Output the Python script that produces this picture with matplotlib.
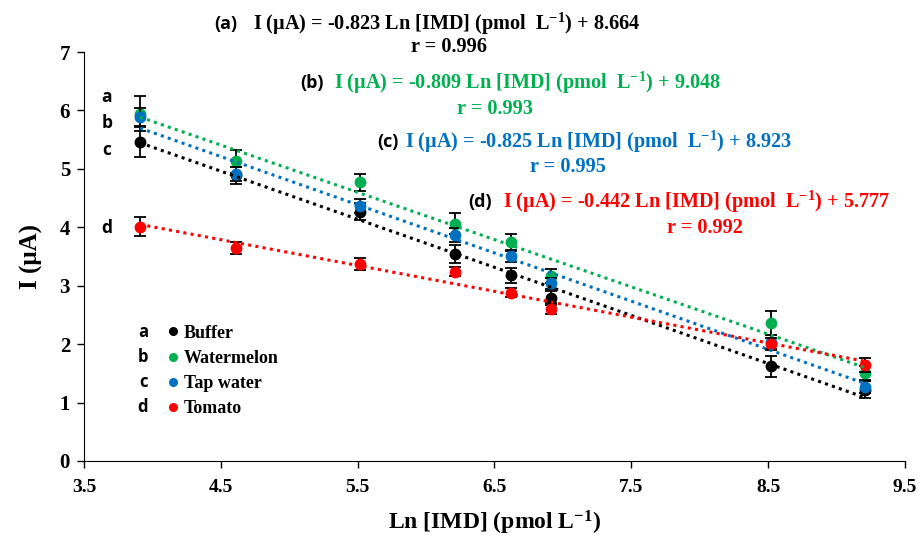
import numpy as np
import matplotlib
matplotlib.use("Agg")
import matplotlib.pyplot as plt
from matplotlib.lines import Line2D

plt.rcParams['mathtext.fontset'] = 'custom'
plt.rcParams['mathtext.rm'] = 'Liberation Serif:bold'
plt.rcParams['mathtext.default'] = 'rm'

# ---- data ----
ln_imd = [3.91, 4.61, 5.52, 6.21, 6.62, 6.91, 8.52, 9.21]
series_names = ["Buffer", "Watermelon", "Tap water", "Tomato"]
series_letters = ["a", "b", "c", "d"]
buffer_vals = [5.46, 4.89, 4.27, 3.54, 3.18, 2.79, 1.62, 1.22]
buffer_err = [0.26, 0.15, 0.15, 0.15, 0.13, 0.12, 0.18, 0.15]
watermelon_vals = [5.94, 5.13, 4.77, 4.06, 3.74, 3.17, 2.36, 1.51]
watermelon_err = [0.30, 0.20, 0.15, 0.18, 0.14, 0.12, 0.20, 0.12]
tap_vals = [5.89, 4.91, 4.37, 3.87, 3.51, 3.04, 2.04, 1.27]
tap_err = [0.15, 0.12, 0.12, 0.12, 0.10, 0.10, 0.12, 0.10]
tomato_vals = [4.01, 3.65, 3.37, 3.24, 2.88, 2.61, 2.00, 1.64]
tomato_err = [0.16, 0.10, 0.10, 0.08, 0.08, 0.10, 0.10, 0.12]
slopes = [-0.823, -0.809, -0.825, -0.442]
intercepts = [8.664, 9.048, 8.923, 5.777]
r_values = [0.996, 0.993, 0.995, 0.992]
x_ticks = [3.5, 4.5, 5.5, 6.5, 7.5, 8.5, 9.5]
y_ticks = [0, 1, 2, 3, 4, 5, 6, 7]

colors = ["#000000", "#00B050", "#0070C0", "#FF0000"]
values = [buffer_vals, watermelon_vals, tap_vals, tomato_vals]
errors = [buffer_err, watermelon_err, tap_err, tomato_err]

W, H = 924, 541
fig = plt.figure(figsize=(W / 100, H / 100), dpi=100)
ax = fig.add_axes([84 / W, 1 - 461 / H, (905 - 84) / W, (461 - 52) / H])

serif = "Liberation Serif"
sans = "Open Sans"

x = np.array(ln_imd)
for i in range(4):
    ax.errorbar(x, values[i], yerr=errors[i], fmt='o', color=colors[i],
                ecolor='black', elinewidth=1.3, capsize=4.5, capthick=1.3,
                markersize=7.5, zorder=3 + i)
for i in range(4):
    xl = np.array([x[0], x[-1]])
    ax.plot(xl, slopes[i] * xl + intercepts[i], color=colors[i],
            linestyle=(0, (1, 1.4)), linewidth=2.2, zorder=8)

ax.set_xlim(3.5, 9.5)
ax.set_ylim(0, 7)
ax.set_xticks(x_ticks)
ax.set_yticks(y_ticks)
ax.set_xticklabels([f"{t:g}" for t in x_ticks], fontfamily=serif, fontweight='bold', fontsize=14)
ax.set_yticklabels([str(t) for t in y_ticks], fontfamily=serif, fontweight='bold', fontsize=15)
ax.spines['top'].set_visible(False)
ax.spines['right'].set_visible(False)
ax.tick_params(direction='out', length=5, width=1, pad=5)
ax.tick_params(axis='x', pad=8)

ax.set_ylabel("I (μA)", fontfamily=serif, fontweight='bold', fontsize=18, labelpad=12)
ax.set_xlabel("Ln [IMD] (pmol L$^{-1}$)", fontfamily=serif, fontweight='bold', fontsize=17, labelpad=9)

# legend
handles = [Line2D([], [], marker='o', linestyle='none', color=c, markersize=5.5) for c in colors]
ax.legend(handles, series_names, loc='upper left',
          bbox_to_anchor=((166 - 84) / (905 - 84), (461 - 323) / (461 - 52)),
          frameon=False, handlelength=0.6, handletextpad=0.3, labelspacing=0.45,
          borderpad=0.1, borderaxespad=0.0,
          prop={'family': serif, 'weight': 'bold', 'size': 13})
for j, (lt, yp) in enumerate(zip(series_letters, [332, 357, 382, 407])):
    fig.text(143 / W, 1 - yp / H, lt, fontfamily=sans, fontweight='bold', fontsize=12,
             ha='center', va='center')

# letters beside first points
for lt, yp in zip(series_letters, [97, 123, 150, 228]):
    fig.text(107 / W, 1 - yp / H, lt, fontfamily=sans, fontweight='bold', fontsize=12.5,
             ha='center', va='center')

# equations
eq_layout = [  # (label_left, eq_left, y_eq, r_center, y_r)
    (214, 253, 24, 449, 47),
    (300, 334, 83, 495, 109),
    (377, 405, 142, 568, 167),
    (468, 503, 202, 705, 228),
]
for i, (lx, ex, ye, rc, yr) in enumerate(eq_layout):
    fig.text(lx / W, 1 - ye / H, f"({series_letters[i]})", fontfamily=sans, fontweight='bold',
             fontsize=13, ha='left', va='center', color='black')
    fig.text(ex / W, 1 - ye / H,
             f"I (μA) = {slopes[i]:.3f} Ln [IMD] (pmol  L$^{{-1}}$) + {intercepts[i]:.3f}",
             fontfamily=serif, fontweight='bold', fontsize=14.6, ha='left', va='center',
             color=colors[i])
    fig.text(rc / W, 1 - yr / H, f"r = {r_values[i]:.3f}", fontfamily=serif, fontweight='bold',
             fontsize=14.6, ha='center', va='center', color=colors[i])

fig.savefig("out.png", dpi=100)
